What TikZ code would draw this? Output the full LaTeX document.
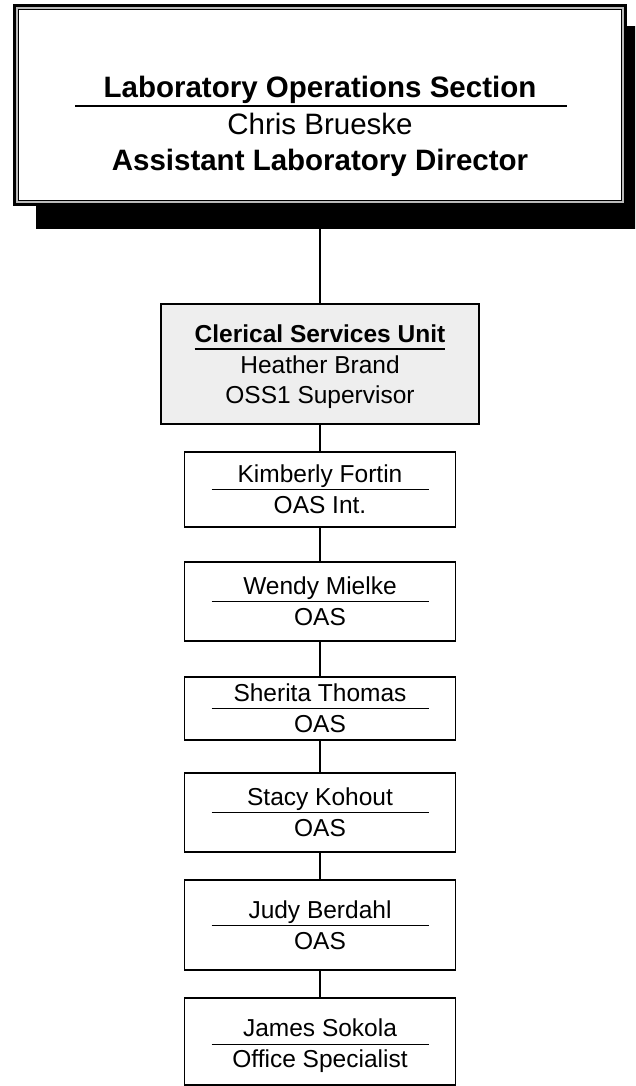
\documentclass[tikz,border=0pt]{standalone}
\usepackage{fontspec}
\setmainfont{Liberation Sans}
\usetikzlibrary{calc}
\definecolor{unitgray}{HTML}{EEEEEE}
\definecolor{framegray}{HTML}{BBBBBB}
\tikzset{
  staffbox/.style={draw, line width=1.3pt, minimum width=271pt, inner sep=0pt},
  txt/.style={anchor=base, inner sep=0pt, font=\fontsize{24.5}{29}\selectfont},
  bigtxt/.style={anchor=base, inner sep=0pt, font=\fontsize{29.5}{35}\selectfont},
  namerule/.style={line width=1pt},
  link/.style={line width=1.1pt},
}

\begin{document}
\begin{tikzpicture}[x=1pt,y=-1pt]
        \clip (0,0) rectangle (635,1086);
        % section box: shadow and double frame
        \fill (36,26) rectangle (650,229);
        \fill (13,4) rectangle (627,206);
        \fill[framegray] (16,7) rectangle (624,203);
        \fill (17.7,8.7) rectangle (622.3,201.3);
        \fill[white] (19.4,10.4) rectangle (620.6,199.6);
        \node[minimum width=614pt, minimum height=202pt] (sec) at (320,105) {};
        \node[bigtxt, font=\bfseries\fontsize{29.5}{35}\selectfont] (secname) at (320,98) {Laboratory Operations Section};
        \draw[line width=2.2pt] (75,106) -- (567,106);
        \node[bigtxt] (sechead) at (320,135) {Chris Brueske};
        \node[bigtxt, font=\bfseries\fontsize{29.5}{35}\selectfont] (sectitle) at (320,171) {Assistant Laboratory Director};

        % clerical unit
        \node[draw, line width=2.3pt, fill=unitgray, minimum width=318pt, minimum height=120pt] (csu) at (320,364) {};
        \node[txt, font=\bfseries\fontsize{24.5}{29}\selectfont] (csuname) at (320,342) {Clerical Services Unit};
        \draw[line width=2pt] ($(csuname.base west)+(0,7)$) -- ($(csuname.base east)+(0,7)$);
        \node[txt] (csuhead) at (320,373) {Heather Brand};
        \node[txt] (csutitle) at (320,403) {OSS1 Supervisor};

        % staff
        \node[staffbox, minimum height=75pt] (kf) at (320,489.5) {};
        \node[txt] at ($(kf)+(0,-7)$) {Kimberly Fortin};
        \draw[namerule] ($(kf)+(-108.5,0)$) -- ($(kf)+(108.5,0)$);
        \node[txt] at ($(kf)+(0,24)$) {OAS Int.};

        \node[staffbox, minimum height=79pt] (wm) at (320,601.5) {};
        \node[txt] at ($(wm)+(0,-7)$) {Wendy Mielke};
        \draw[namerule] ($(wm)+(-108.5,0)$) -- ($(wm)+(108.5,0)$);
        \node[txt] at ($(wm)+(0,24)$) {OAS};

        \node[staffbox, minimum height=63pt] (st) at (320,708.5) {};
        \node[txt] at ($(st)+(0,-7)$) {Sherita Thomas};
        \draw[namerule] ($(st)+(-108.5,0)$) -- ($(st)+(108.5,0)$);
        \node[txt] at ($(st)+(0,24)$) {OAS};

        \node[staffbox, minimum height=79pt] (sk) at (320,812.5) {};
        \node[txt] at ($(sk)+(0,-7)$) {Stacy Kohout};
        \draw[namerule] ($(sk)+(-108.5,0)$) -- ($(sk)+(108.5,0)$);
        \node[txt] at ($(sk)+(0,24)$) {OAS};

        \node[staffbox, minimum height=90pt] (jb) at (320,925) {};
        \node[txt] at ($(jb)+(0,-7)$) {Judy Berdahl};
        \draw[namerule] ($(jb)+(-108.5,0)$) -- ($(jb)+(108.5,0)$);
        \node[txt] at ($(jb)+(0,24)$) {OAS};

        \node[staffbox, minimum height=87pt] (js) at (320,1041.5) {};
        \node[txt] at ($(js)+(0,-5)$) {James Sokola};
        \draw[namerule] ($(js)+(-108.5,2.5)$) -- ($(js)+(108.5,2.5)$);
        \node[txt] at ($(js)+(0,26)$) {Office Specialist};

        % links
        \draw[link] (sec) -- (csu);
        \draw[link] (csu) -- (kf);
        \draw[link] (kf) -- (wm);
        \draw[link] (wm) -- (st);
        \draw[link] (st) -- (sk);
        \draw[link] (sk) -- (jb);
        \draw[link] (jb) -- (js);
\end{tikzpicture}
\end{document}
